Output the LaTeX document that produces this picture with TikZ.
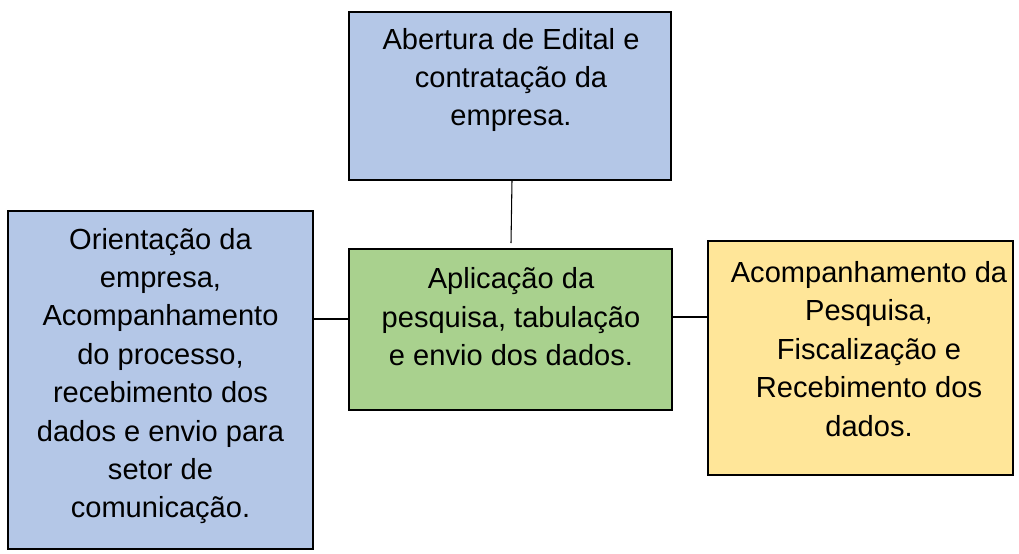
\documentclass[tikz,border=0pt]{standalone}
\usepackage{fontspec}
\setmainfont{Liberation Sans}
\definecolor{boxblue}{HTML}{B4C7E7}
\definecolor{boxgreen}{HTML}{A9D18E}
\definecolor{boxyellow}{HTML}{FFE699}
\begin{document}
\begin{tikzpicture}[x=0.75pt,y=-0.75pt,
  stagebox/.style={draw=black,line width=1.5pt,inner sep=0pt,outer sep=0pt},
  stagetext/.style={align=center,font=\fontsize{21.8pt}{28.8pt}\selectfont,inner sep=0pt},
  link/.style={draw=black,line width=0.8pt}]
\useasboundingbox (0,0) rectangle (1019,553);
\node[stagebox,fill=boxblue,minimum width=322*0.75pt,minimum height=168*0.75pt] (top) at (510,96) {};
\node[stagebox,fill=boxblue,minimum width=305*0.75pt,minimum height=338*0.75pt] (left) at (160.5,380) {};
\node[stagebox,fill=boxgreen,minimum width=323*0.75pt,minimum height=161*0.75pt] (mid) at (510.5,329.5) {};
\node[stagebox,fill=boxyellow,minimum width=305*0.75pt,minimum height=234*0.75pt] (right) at (860.5,358) {};
\node[stagetext] (toptext) at (511,80) {Abertura de Edital e\\contratação da\\empresa.};
\node[stagetext] (lefttext) at (160.5,376) {Orientação da\\empresa,\\Acompanhamento\\do processo,\\recebimento dos\\dados e envio para\\setor de\\comunicação.};
\node[stagetext] (midtext) at (511,317) {Aplicação da\\pesquisa, tabulação\\e envio dos dados.};
\node[stagetext] (righttext) at (869,349) {Acompanhamento da\\Pesquisa,\\Fiscalização e\\Recebimento dos\\dados.};
\coordinate (vend) at (511,243);
\draw[link] (top.south -| 512,0) -- (vend);
\draw[link] (left.east |- 0,319) -- (mid.west |- 0,319);
\draw[link] (mid.east |- 0,317) -- (right.west |- 0,317);
\end{tikzpicture}
\end{document}
